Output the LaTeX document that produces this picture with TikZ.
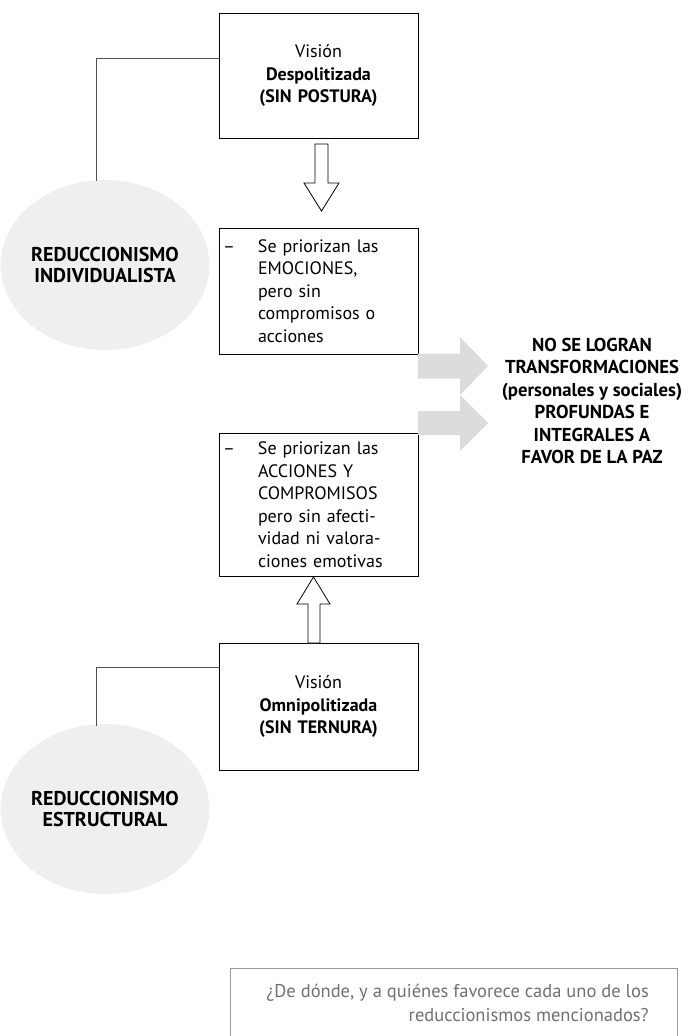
\documentclass[tikz,border=0pt]{standalone}
\usepackage{fontspec}
\setmainfont{PT Sans}
\usetikzlibrary{shapes.geometric}
\definecolor{circfill}{HTML}{EFEFEF}
\definecolor{arrowgray}{HTML}{DCDCDC}
\definecolor{linkgray}{HTML}{505050}
\definecolor{qgray}{HTML}{707070}
\definecolor{qborder}{HTML}{9A9A9A}
\tikzset{
  rbox/.style={draw=black, line width=0.9pt, rectangle, minimum width=199pt, inner xsep=4pt, inner ysep=0pt, font=\fontsize{18}{22.5}\selectfont},
  ell/.style={ellipse, fill=circfill, minimum width=190pt, minimum height=170pt, inner sep=0pt, align=center, font=\bfseries\fontsize{20}{20.5}\selectfont},
  link/.style={draw=linkgray, line width=1pt},
  hollow/.style={draw=black, fill=white, line width=0.8pt, line join=miter},
  grayarrow/.style={fill=arrowgray, draw=none},
  result/.style={align=center, inner sep=0pt, font=\bfseries\fontsize{18.7}{22.4}\selectfont},
  qbox/.style={draw=qborder, line width=0.9pt, rectangle, inner sep=0pt},
  qtext/.style={align=right, inner sep=0pt, text=qgray, font=\fontsize{18.5}{24}\selectfont}
}
\begin{document}
\begin{tikzpicture}[x=1pt,y=-1pt]
\useasboundingbox (0,0) rectangle (689,1036);

% boxes
\node[rbox, minimum height=125pt, align=center, text width=191pt] (b1) at (318.5,75.5)
  {Visión\\\textbf{Despolitizada}\\\textbf{(SIN POSTURA)}};
\node[rbox, minimum height=126pt, align=left, text width=191pt] (b2) at (318.5,291)
  {\makebox[35pt][l]{–}Se priorizan las\\\hspace*{35pt}EMOCIONES,\\\hspace*{35pt}pero sin\\\hspace*{35pt}compromisos o\\\hspace*{35pt}acciones};
\node[rbox, minimum height=143pt, align=left, text width=191pt] (b3) at (318.5,504.5)
  {\makebox[35pt][l]{–}Se priorizan las\\\hspace*{35pt}ACCIONES Y\\\hspace*{35pt}COMPROMISOS\\\hspace*{35pt}pero sin afecti-\\\hspace*{35pt}vidad ni valora-\\\hspace*{35pt}ciones emotivas};
\node[rbox, minimum height=127pt, align=center, text width=191pt] (b4) at (318.5,706.5)
  {Visión\\\textbf{Omnipolitizada}\\\textbf{(SIN TERNURA)}};

% ellipses
\node[ell] (c1) at (105,265) {REDUCCIONISMO\\INDIVIDUALISTA};
\node[ell] (c2) at (105,809) {REDUCCIONISMO\\ESTRUCTURAL};

% connectors
\coordinate (k1) at (96,181);
\coordinate (k2) at (96,726);
\draw[link] ([yshift=17.5pt]b1.west) -| (k1);
\draw[link] ([yshift=39.5pt]b4.west) -| (k2);

% hollow arrows
\draw[hollow] (315,144) -- (328,144) -- (328,183) -- (339,183) -- (321.5,211) -- (304,183) -- (315,183) -- cycle;
\draw[hollow] (308,643) -- (320,643) -- (320,604) -- (330,604) -- (313.5,577) -- (297,604) -- (308,604) -- cycle;

% gray arrows
\fill[grayarrow] (418,353.5) -- (460,353.5) -- (460,337) -- (488,366) -- (460,395) -- (460,378.5) -- (418,378.5) -- cycle;
\fill[grayarrow] (418,411) -- (460,411) -- (460,395) -- (488,423) -- (460,451) -- (460,435) -- (418,435) -- cycle;

% result text
\node[result] (r) at (592,401) {NO SE LOGRAN\\TRANSFORMACIONES\\(personales y sociales)\\PROFUNDAS E\\INTEGRALES A\\FAVOR DE LA PAZ};

% question box
\node[qbox, minimum width=447pt, minimum height=100pt, anchor=north west] (q) at (230,968) {};
\node[qtext, anchor=east] (qt) at (649,1003) {¿De dónde, y a quiénes favorece cada uno de los\\reduccionismos mencionados?};
\end{tikzpicture}
\end{document}
